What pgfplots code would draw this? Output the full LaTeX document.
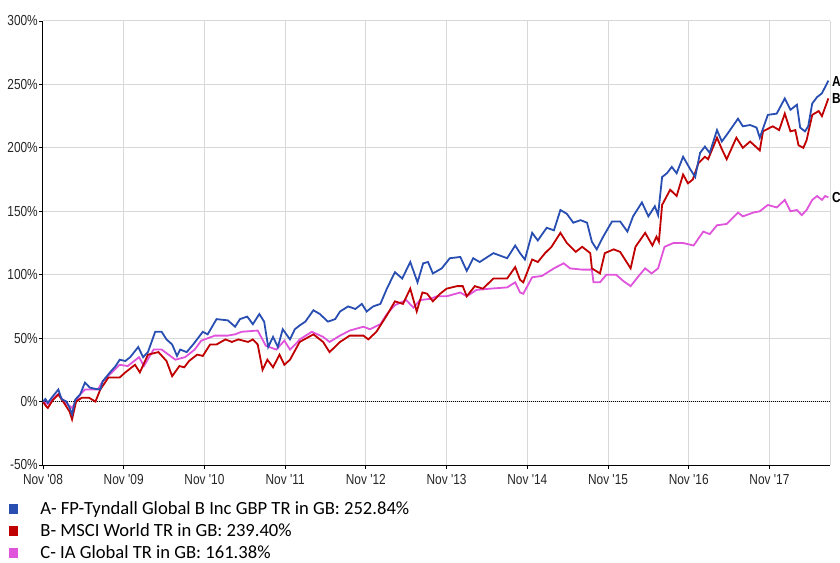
\documentclass[border=0pt]{standalone}
\usepackage{pgfplots}
\pgfplotsset{compat=1.18}
\usepackage{fontspec}
\setmainfont{Carlito}
\newfontfamily\tickfont[FakeStretch=0.82]{Liberation Sans}
\definecolor{cA}{RGB}{40,78,178}
\definecolor{cB}{RGB}{192,0,0}
\definecolor{cC}{RGB}{224,84,220}
\definecolor{gridc}{RGB}{216,216,216}

\pgfplotstableread{
x y
0 0
0.03 2
0.06 -1
0.12 4
0.19 9.5
0.23 2
0.29 0
0.33 -5
0.36 -10
0.40 1.6
0.46 5.6
0.52 15
0.58 11
0.65 10
0.71 9.5
0.74 16
0.83 23
0.90 28
0.95 33
1.02 32
1.08 35
1.18 43
1.24 35
1.30 39
1.39 55
1.47 55
1.53 49
1.60 45
1.66 36
1.70 41
1.78 39
1.86 45
1.98 55
2.04 53
2.15 65
2.29 64
2.38 59
2.44 65
2.53 67
2.60 61
2.68 69
2.74 63
2.79 43
2.85 51
2.91 43
2.97 57
3.06 49
3.12 57
3.18 60
3.25 63
3.35 72
3.43 69
3.53 63
3.62 65
3.68 71
3.78 75
3.87 73
3.95 77
4.01 71
4.09 75
4.18 77
4.26 89
4.36 102
4.45 97
4.55 110
4.64 94
4.71 109
4.77 110
4.83 101
4.94 105
5.04 113
5.17 114
5.25 103
5.33 113
5.41 110
5.58 117
5.75 113
5.85 123
5.91 117
5.97 112
6.06 133
6.13 127
6.24 137
6.33 135
6.41 151
6.49 148
6.57 141
6.66 143
6.74 141
6.80 126
6.86 120
6.94 130
7.05 142
7.15 142
7.24 134
7.31 146
7.42 157
7.50 146
7.58 154
7.62 147
7.67 177
7.73 180
7.79 185
7.85 180
7.93 193
8.02 183
8.08 177
8.14 196
8.20 201
8.26 196
8.35 214
8.41 205
8.49 212
8.61 223
8.67 217
8.76 218
8.84 216
8.88 208
8.98 226
9.09 227
9.19 239
9.26 230
9.34 234
9.38 216
9.44 213
9.48 217
9.53 235
9.59 240
9.65 243
9.69 248
9.73 253
}\dataA

\pgfplotstableread{
x y
0 0
0.03 -3
0.06 -5
0.12 1
0.19 5.6
0.26 -1
0.33 -8
0.36 -14
0.41 0
0.48 3
0.57 3
0.65 0
0.71 9.5
0.81 19
0.95 19
1.02 23
1.14 29
1.20 23
1.30 37
1.43 39
1.53 32
1.60 20
1.69 28
1.75 27
1.81 32
1.91 37
1.98 36
2.07 45
2.15 45
2.26 49
2.34 47
2.42 49
2.54 47
2.60 49
2.66 45
2.72 25
2.78 33
2.85 27
2.93 37
2.99 29
3.06 33
3.12 40
3.18 47
3.35 53
3.47 47
3.55 39
3.68 47
3.80 52
3.97 52
4.03 49
4.13 55
4.26 68
4.36 79
4.46 77
4.55 89
4.63 71
4.70 86
4.76 85
4.83 79
4.92 85
5.00 89
5.13 91
5.20 91
5.25 83
5.35 91
5.45 89
5.58 97
5.75 97
5.85 106
5.91 96
5.95 94
6.06 112
6.13 110
6.22 117
6.30 122
6.41 133
6.49 125
6.60 118
6.68 122
6.78 117
6.80 105
6.90 101
6.96 117
7.07 120
7.15 118
7.28 105
7.34 122
7.46 133
7.55 123
7.60 130
7.63 126
7.67 155
7.77 167
7.85 162
7.93 179
7.99 172
8.05 175
8.12 188
8.20 193
8.24 191
8.35 208
8.41 199
8.47 191
8.59 208
8.67 200
8.76 205
8.88 198
8.92 213
9.04 217
9.12 214
9.19 227
9.26 213
9.32 214
9.36 202
9.42 200
9.46 206
9.53 226
9.61 229
9.65 225
9.69 232
9.73 239
}\dataB

\pgfplotstableread{
x y
0 0
0.06 -2
0.19 6
0.26 0
0.36 -5
0.46 5.6
0.52 9.5
0.68 9.5
0.74 16
0.95 29
1.05 28
1.19 35
1.25 28
1.37 41
1.47 41
1.64 33
1.76 35
1.88 41
1.96 48
2.13 52
2.29 52
2.38 53
2.46 55
2.66 56
2.76 44
2.89 41
2.99 48
3.06 41
3.14 46
3.18 49
3.33 55
3.47 51
3.55 47
3.68 52
3.80 56
3.97 59
4.05 57
4.18 61
4.26 69
4.36 76
4.50 80
4.59 74
4.67 80
4.80 81
4.88 83
5.00 83
5.17 86
5.25 83
5.37 88
5.54 89
5.75 90
5.85 94
5.91 86
5.95 85
6.06 98
6.18 99
6.33 105
6.45 109
6.53 105
6.68 104
6.80 104
6.82 94
6.90 94
6.98 100
7.10 100
7.19 95
7.28 91
7.38 99
7.46 105
7.54 101
7.62 105
7.70 122
7.81 125
7.93 125
8.06 123
8.18 134
8.26 132
8.35 139
8.47 140
8.61 149
8.67 146
8.80 149
8.88 150
8.98 155
9.09 153
9.19 159
9.26 150
9.34 151
9.40 147
9.46 151
9.53 159
9.59 162
9.65 159
9.69 162
9.73 161
}\dataC

\begin{document}
\begin{tikzpicture}
\useasboundingbox (0,0) rectangle (840pt,562pt);
\begin{axis}[
  at={(43pt,97pt)}, anchor=south west,
  scale only axis, width=787pt, height=444pt,
  xmin=0, xmax=9.75, ymin=-50, ymax=300,
  xtick={0,1,2,3,4,5,6,7,8,9},
  xticklabels={Nov '08,Nov '09,Nov '10,Nov '11,Nov '12,Nov '13,Nov '14,Nov '15,Nov '16,Nov '17},
  ytick={-50,0,50,100,150,200,250,300},
  yticklabels={-50\%,0\%,50\%,100\%,150\%,200\%,250\%,300\%},
  ticklabel style={font=\tickfont\fontsize{14.5}{16}\selectfont, text=black!85},
  yticklabel style={inner sep=1pt},
  xticklabel style={inner sep=1pt, yshift=-4pt},
  grid=major, major grid style={gridc, line width=1pt},
  axis x line*=bottom, axis y line*=left,
  axis line style={black, line width=1pt, -},
  tick align=outside, major tick length=4pt, tick style={black, line width=0.8pt},
  clip=false,
  legend style={at={(axis description cs:0,0)}, anchor=north west, xshift=-34pt, yshift=-35pt,
    draw=none, fill=none, inner sep=0pt, font=\fontsize{18.6}{21}\selectfont, row sep=5.6pt,
    nodes={inner sep=1pt}},
  legend cell align=left,
  legend image code/.code={\fill[#1] (0pt,-5pt) rectangle (8pt,4pt); \path[draw=none] (0pt,0pt) -- (30pt,0pt);},
]
\addlegendimage{cA}
\addlegendentry{A- FP-Tyndall Global B Inc GBP TR in GB: 252.84\%}
\addlegendimage{cB}
\addlegendentry{B- MSCI World TR in GB: 239.40\%}
\addlegendimage{cC}
\addlegendentry{C- IA Global TR in GB: 161.38\%}
\draw[gridc, line width=1pt] (rel axis cs:1,0) -- (rel axis cs:1,1);
\addplot[black, line width=0.8pt, dash pattern=on 1pt off 1pt, forget plot] coordinates {(0,0) (9.75,0)};
\addplot[cC, line width=1.8pt, forget plot] table[x=x,y=y] {\dataC};
\addplot[cB, line width=1.8pt, forget plot] table[x=x,y=y] {\dataB};
\addplot[cA, line width=1.8pt, forget plot] table[x=x,y=y] {\dataA};
\node[anchor=west, font=\tickfont\bfseries\fontsize{14.5}{16}\selectfont, inner sep=2pt] at (axis cs:9.75,252) {A};
\node[anchor=west, font=\tickfont\bfseries\fontsize{14.5}{16}\selectfont, inner sep=2pt] at (axis cs:9.75,239) {B};
\node[anchor=west, font=\tickfont\bfseries\fontsize{14.5}{16}\selectfont, inner sep=2pt] at (axis cs:9.75,161) {C};
\end{axis}
\end{tikzpicture}
\end{document}
